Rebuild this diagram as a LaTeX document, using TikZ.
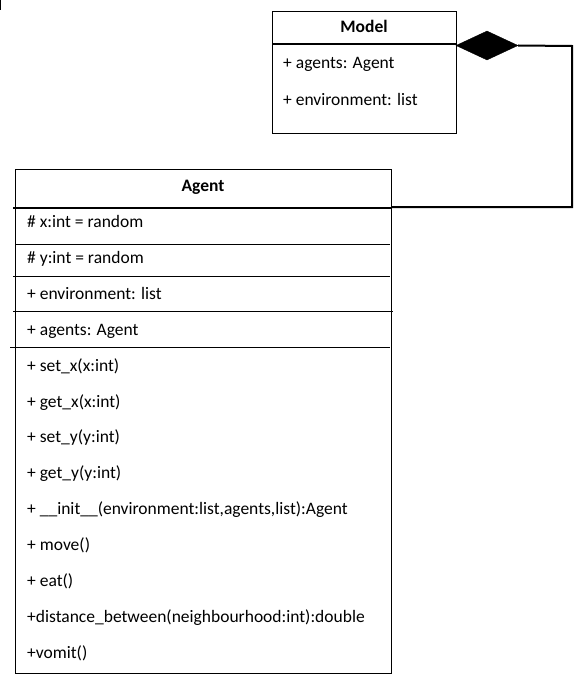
\documentclass[tikz,border=0pt]{standalone}
\usepackage{fontspec}
\setmainfont{Carlito}
\usetikzlibrary{shapes.geometric}
\begin{document}
\begin{tikzpicture}[x=1pt,y=-1pt,
  txt/.style={anchor=base west, inner sep=0pt, font=\fontsize{17.5}{20}\selectfont},
  ttl/.style={anchor=base, inner sep=0pt, font=\fontsize{17.5}{20}\selectfont\bfseries},
  box/.style={draw, line width=1pt, inner sep=0pt, anchor=north west},
  sep/.style={line width=1pt},
  hdr/.style={line width=2pt},
  conn/.style={line width=2pt}]
\useasboundingbox (0,0) rectangle (586,685);
\draw[sep] (0.5,0) -- (0.5,10);
% Model
\node[box, minimum width=184pt, minimum height=122pt] (model) at (272,11) {};
\node[ttl] (mt) at (364,33) {Model};
\draw[hdr] (272,44) -- (456,44);
\node[txt] (m1) at (283,69) {+ agents: Agent};
\node[txt] (m2) at (283,105) {+ environment: list};
% Diamond
\node[diamond, fill=black, draw=black, inner sep=0pt, minimum width=62pt, minimum height=29pt] (dia) at (487,45.5) {};
% Agent
\node[box, minimum width=376pt, minimum height=504pt] (agent) at (15,169) {};
\node[ttl] (at) at (203,191) {Agent};
\draw[hdr] (13,208) -- (392,208);
\draw[sep] (15,244) -- (390,244);
\draw[sep] (13,276) -- (390,276);
\draw[sep] (13,311) -- (393,311);
\draw[sep] (10,347) -- (390,347);
\node[txt] (a1) at (27,227) {\# x:int = random};
\node[txt] (a2) at (27,263) {\# y:int = random};
\node[txt] (a3) at (27,299) {+ environment: list};
\node[txt] (a4) at (27,335) {+ agents: Agent};
\node[txt] (a5) at (27,371) {+ set\_x(x:int)};
\node[txt] (a6) at (27,407) {+ get\_x(x:int)};
\node[txt] (a7) at (27,442) {+ set\_y(y:int)};
\node[txt] (a8) at (27,478) {+ get\_y(y:int)};
\node[txt] (a9) at (27,514) {+ \_\_init\_\_(environment:list,agents,list):Agent};
\node[txt] (a10) at (27,550) {+ move()};
\node[txt] (a11) at (27,586) {+ eat()};
\node[txt] (a12) at (27,622) {+distance\_between(neighbourhood:int):double};
\node[txt] (a13) at (27,658) {+vomit()};
% Composition connector
\coordinate (c1) at (572,46);
\coordinate (c2) at (572,207);
\coordinate (ahdr) at (392,207);
\draw[conn] (dia.east) -- (c1) -- (c2) -- (ahdr);
\end{tikzpicture}
\end{document}
